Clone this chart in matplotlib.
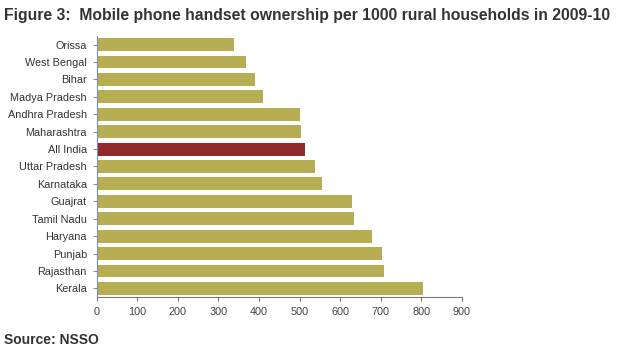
import matplotlib
matplotlib.use('Agg')
import matplotlib.pyplot as plt

plt.rcParams['font.family'] = ['Liberation Sans', 'DejaVu Sans']

states = ['Orissa', 'West Bengal', 'Bihar', 'Madya Pradesh', 'Andhra Pradesh',
          'Maharashtra', 'All India', 'Uttar Pradesh', 'Karnataka', 'Guajrat',
          'Tamil Nadu', 'Haryana', 'Punjab', 'Rajasthan', 'Kerala']
handsets = [338, 368, 391, 410, 500, 504, 513, 537, 554, 628, 634, 678, 704, 708, 805]
highlight = 'All India'

olive = '#B7AD52'
red = '#8E2A2A'
colors = [red if s == highlight else olive for s in states]

fig = plt.figure(figsize=(6.2, 3.55), dpi=100)
ax = fig.add_axes([0.156, 0.163, 0.589, 0.736])

pos = list(range(len(states)))[::-1]
ax.barh(pos, handsets, height=0.74, color=colors)
ax.set_yticks(pos)
ax.set_yticklabels(states, fontsize=7.8, color='#333333')
ax.set_ylim(-0.5, len(states) - 0.5)
ax.set_xlim(0, 900)
ax.set_xticks(range(0, 901, 100))
ax.tick_params(axis='x', labelsize=7.8, labelcolor='#444444', length=3, color='#777777', pad=4)
ax.tick_params(axis='y', length=3, color='#8090A8', pad=4)
for s in ['top', 'right']:
    ax.spines[s].set_visible(False)
ax.spines['left'].set_color('#8090A8')
ax.spines['bottom'].set_color('#777777')
ax.spines['left'].set_linewidth(0.8)
ax.spines['bottom'].set_linewidth(0.8)

fig.text(0.006, 0.957, 'Figure 3:  Mobile phone handset ownership per 1000 rural households in 2009-10',
         fontsize=11.3, fontweight='bold', color='#333333', va='center')
fig.text(0.006, 0.042, 'Source: NSSO', fontsize=10, fontweight='bold', color='#333333', va='center')

fig.savefig('out.png', dpi=100)
